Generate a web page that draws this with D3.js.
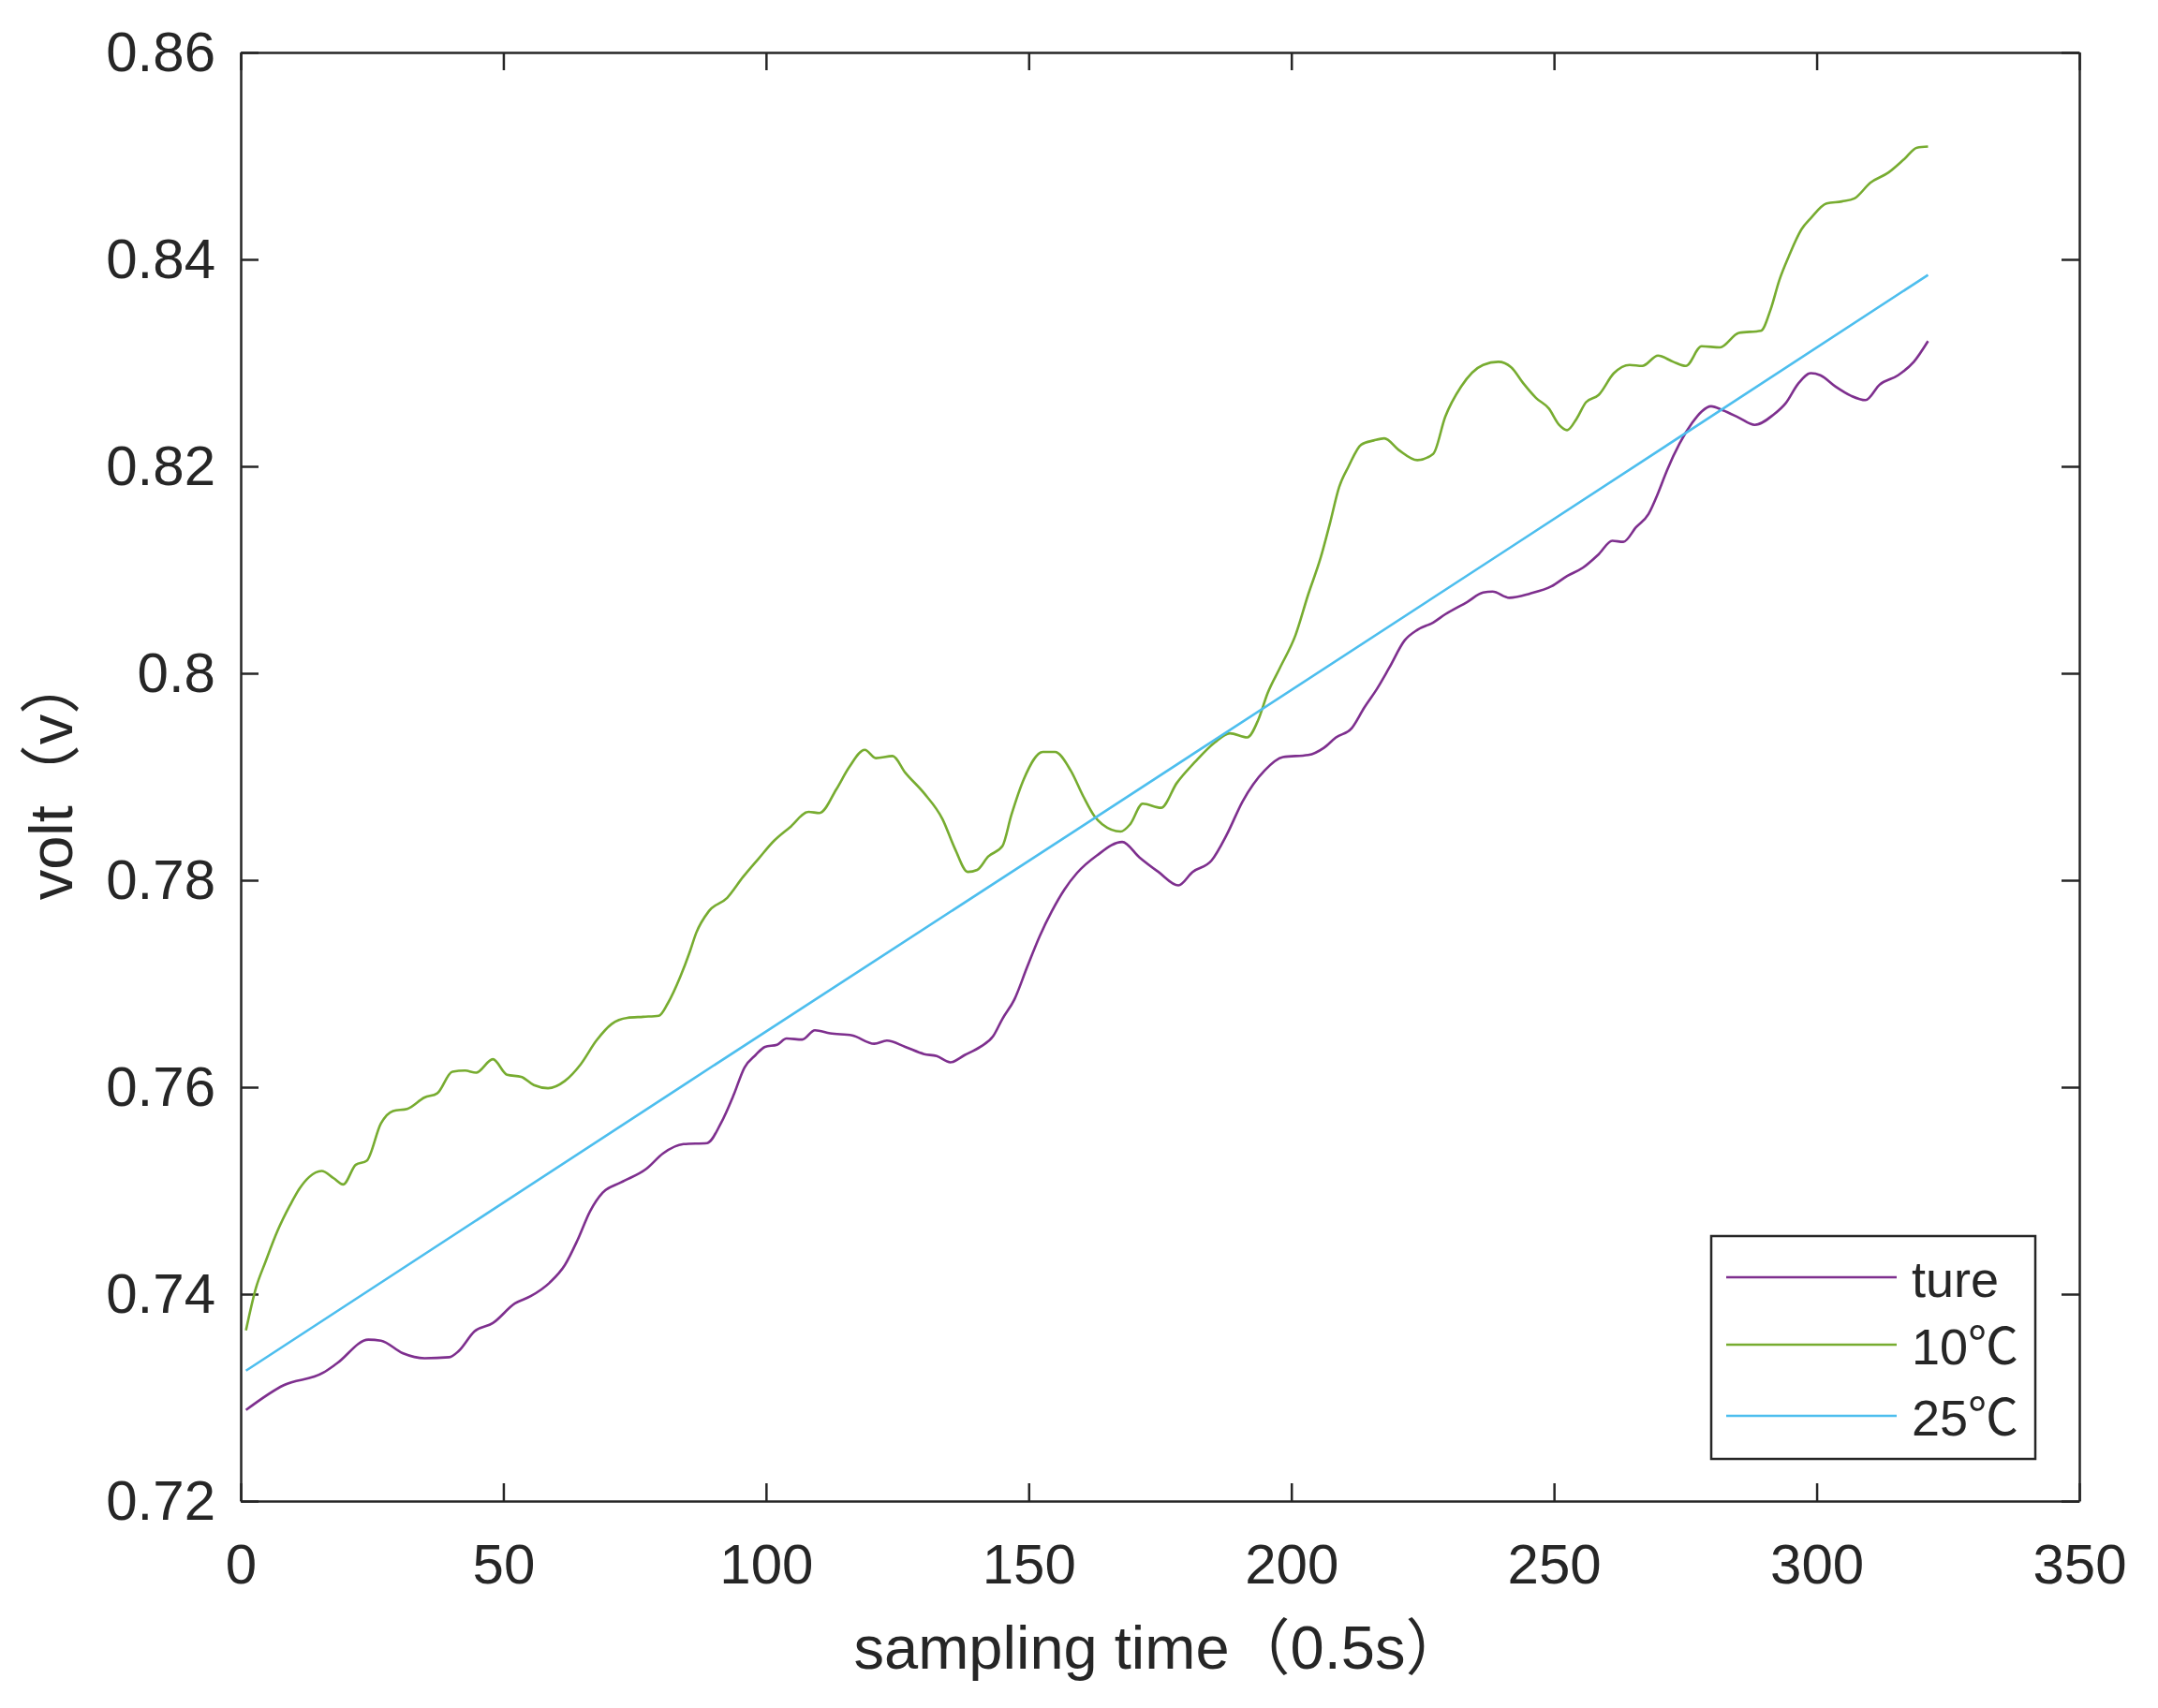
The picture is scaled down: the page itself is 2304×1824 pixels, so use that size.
<!DOCTYPE html>
<html>
<head>
<meta charset="utf-8">
<style>
  body { margin: 0; background: #fff; }
  text { font-family: "Liberation Sans", Arial, "Noto Sans CJK SC", sans-serif; fill: #262626; }
</style>
</head>
<body>
<svg width="2304" height="1824"></svg>
<script src="https://d3js.org/d3.v7.min.js"></script>
<script>
// ---- data ----
const seriesNames = ["ture", "10℃", "25℃"];
const seriesColors = ["#7E2F8E", "#77AC30", "#4DBEEE"];

const tureX = [1.0, 8.2, 15.7, 18.3, 24.3, 26.7, 30.8, 35.0, 39.7, 41.5, 44.5, 48.0, 52.2, 55.2, 58.8, 61.7, 64.1, 66.5, 68.9, 72.4, 77.2, 80.4, 84.3, 88.8, 91.4, 93.8, 95.9, 98.0, 99.8, 102.1, 103.9, 106.9, 109.3, 112.2, 116.4, 120.6, 123.0, 126.5, 130.1, 132.5, 135.1, 137.8, 140.8, 143.2, 145.0, 147.3, 149.7, 152.1, 154.4, 156.8, 159.2, 163.0, 167.8, 171.1, 174.7, 178.5, 181.2, 184.8, 187.7, 190.7, 194.9, 198.4, 203.2, 206.2, 208.5, 211.5, 213.9, 216.3, 218.6, 221.6, 224.0, 227.0, 229.3, 233.5, 236.5, 238.3, 241.5, 245.4, 249.5, 252.5, 255.5, 258.5, 261.1, 263.2, 265.6, 268.0, 269.8, 271.5, 273.9, 276.3, 278.1, 279.9, 282.2, 285.2, 288.2, 291.8, 294.1, 296.5, 298.9, 300.7, 303.6, 306.6, 309.3, 312.0, 315.5, 318.5, 321.2];
const tureY = [0.7288, 0.7312, 0.7324, 0.7333, 0.7356, 0.7355, 0.7343, 0.7338, 0.7339, 0.7345, 0.7364, 0.7372, 0.7391, 0.7398, 0.7411, 0.7428, 0.7452, 0.7480, 0.7498, 0.7508, 0.7521, 0.7536, 0.7545, 0.7546, 0.7565, 0.7592, 0.7619, 0.7631, 0.7639, 0.7641, 0.7647, 0.7646, 0.7655, 0.7652, 0.7650, 0.7642, 0.7645, 0.7639, 0.7632, 0.7630, 0.7624, 0.7631, 0.7639, 0.7649, 0.7666, 0.7685, 0.7716, 0.7746, 0.7770, 0.7791, 0.7807, 0.7824, 0.7837, 0.7822, 0.7808, 0.7795, 0.7808, 0.7819, 0.7844, 0.7876, 0.7906, 0.7919, 0.7921, 0.7928, 0.7938, 0.7947, 0.7967, 0.7985, 0.8005, 0.8032, 0.8042, 0.8049, 0.8057, 0.8069, 0.8078, 0.8079, 0.8073, 0.8077, 0.8084, 0.8094, 0.8102, 0.8115, 0.8128, 0.8127, 0.8141, 0.8154, 0.8174, 0.8196, 0.8222, 0.8242, 0.8253, 0.8258, 0.8254, 0.8247, 0.8240, 0.8250, 0.8261, 0.8280, 0.8290, 0.8288, 0.8277, 0.8268, 0.8264, 0.8279, 0.8288, 0.8301, 0.8321];

const t10X = [1.0, 2.9, 4.7, 7.0, 9.4, 11.2, 13.0, 15.4, 17.7, 19.5, 21.9, 24.0, 26.7, 29.0, 31.7, 35.0, 37.4, 40.3, 42.7, 44.8, 48.0, 50.7, 53.4, 55.8, 58.5, 61.7, 64.7, 67.7, 70.6, 73.6, 76.6, 79.6, 81.3, 83.7, 85.5, 86.7, 89.1, 92.6, 95.6, 98.6, 101.5, 104.5, 108.1, 110.2, 113.4, 115.8, 118.8, 120.9, 124.1, 126.5, 130.1, 133.6, 136.0, 138.4, 140.2, 142.3, 145.0, 146.7, 149.1, 152.7, 155.0, 158.0, 160.4, 162.5, 164.0, 167.5, 169.3, 171.7, 175.2, 178.2, 181.8, 185.4, 188.3, 191.6, 193.7, 195.5, 197.8, 200.8, 203.2, 205.6, 207.3, 209.1, 210.9, 213.3, 215.7, 217.7, 220.4, 224.0, 227.0, 229.3, 232.3, 236.5, 239.4, 241.8, 244.2, 246.6, 249.0, 251.0, 252.5, 254.3, 256.1, 258.5, 261.4, 264.4, 266.8, 269.8, 272.7, 275.1, 278.1, 281.6, 285.2, 289.4, 291.2, 292.9, 294.7, 297.1, 298.9, 301.9, 304.8, 307.2, 310.2, 313.7, 316.7, 319.1, 321.2];
const t10Y = [0.7365, 0.7406, 0.7431, 0.7461, 0.7486, 0.7502, 0.7513, 0.7519, 0.7512, 0.7506, 0.7525, 0.7529, 0.7565, 0.7577, 0.7579, 0.7590, 0.7594, 0.7615, 0.7616, 0.7614, 0.7627, 0.7612, 0.7610, 0.7602, 0.7599, 0.7606, 0.7622, 0.7645, 0.7661, 0.7667, 0.7668, 0.7669, 0.7681, 0.7707, 0.7731, 0.7749, 0.7770, 0.7783, 0.7803, 0.7821, 0.7838, 0.7851, 0.7866, 0.7865, 0.7888, 0.7909, 0.7926, 0.7918, 0.7920, 0.7904, 0.7884, 0.7859, 0.7830, 0.7808, 0.7810, 0.7823, 0.7833, 0.7863, 0.7898, 0.7924, 0.7924, 0.7906, 0.7881, 0.7862, 0.7854, 0.7847, 0.7854, 0.7874, 0.7870, 0.7894, 0.7915, 0.7933, 0.7942, 0.7938, 0.7955, 0.7981, 0.8005, 0.8037, 0.8076, 0.8112, 0.8144, 0.8180, 0.8200, 0.8221, 0.8225, 0.8227, 0.8216, 0.8206, 0.8212, 0.8248, 0.8277, 0.8298, 0.8301, 0.8296, 0.8280, 0.8266, 0.8256, 0.8240, 0.8235, 0.8246, 0.8262, 0.8269, 0.8290, 0.8298, 0.8297, 0.8307, 0.8301, 0.8297, 0.8316, 0.8315, 0.8329, 0.8331, 0.8351, 0.8380, 0.8403, 0.8429, 0.8440, 0.8454, 0.8456, 0.8459, 0.8474, 0.8484, 0.8497, 0.8508, 0.8509];

const t25X = [1.0, 84.3, 159.2, 239.4, 321.2];
const t25Y = [0.7326, 0.7602, 0.7849, 0.8114, 0.8385];

const xTicks = [0, 50, 100, 150, 200, 250, 300, 350];
const yTicks = [0.72, 0.74, 0.76, 0.78, 0.8, 0.82, 0.84, 0.86];
const xLabel = "sampling time（0.5s）";
const yLabel = "volt（v）";

// ---- layout ----
const svg = d3.select("svg");
const L = 257, R = 2220, T = 56, B = 1603;
const INK = "#262626";

const x = d3.scaleLinear().domain([0, 350]).range([L, R]);
const y = d3.scaleLinear().domain([0.72, 0.86]).range([B, T]);

svg.append("rect").attr("width", 2304).attr("height", 1824).attr("fill", "#fff");

function styleAxis(g) {
    g.selectAll("path").attr("stroke", INK).attr("stroke-width", 2.5);
    g.selectAll("line").attr("stroke", INK).attr("stroke-width", 2.5);
    g.selectAll("text").attr("fill", INK).attr("font-size", 60)
        .attr("font-family", "'Liberation Sans', Arial, sans-serif");
}

const TICK = 19;
// bottom and left with labels, ticks pointing inward
svg.append("g").attr("transform", `translate(0,${B})`)
    .call(d3.axisBottom(x).tickValues(xTicks).tickSizeInner(-TICK).tickSizeOuter(0).tickPadding(45).tickFormat(d3.format("d")))
    .call(styleAxis);
svg.append("g").attr("transform", `translate(${L},0)`)
    .call(d3.axisLeft(y).tickValues(yTicks).tickSizeInner(-TICK).tickSizeOuter(0).tickPadding(27).tickFormat(d => String(+d.toFixed(2))))
    .call(styleAxis);
// mirrored top and right, no labels
svg.append("g").attr("transform", `translate(0,${T})`)
    .call(d3.axisTop(x).tickValues(xTicks).tickSizeInner(-TICK).tickSizeOuter(0).tickFormat(""))
    .call(styleAxis);
svg.append("g").attr("transform", `translate(${R},0)`)
    .call(d3.axisRight(y).tickValues(yTicks).tickSizeInner(-TICK).tickSizeOuter(0).tickFormat(""))
    .call(styleAxis);

// ---- lines ----
const line = d3.line()
    .x(d => x(d[0]))
    .y(d => y(d[1]))
    .curve(d3.curveMonotoneX);

const series = [
    d3.zip(tureX, tureY),
    d3.zip(t10X, t10Y),
    d3.zip(t25X, t25Y)
];

series.forEach((pts, i) => {
    svg.append("path")
        .datum(pts)
        .attr("d", i === 2 ? d3.line().x(d => x(d[0])).y(d => y(d[1]))(pts) : line)
        .attr("fill", "none")
        .attr("stroke", seriesColors[i])
        .attr("stroke-width", 2.6)
        .attr("stroke-linejoin", "round");
});

// ---- axis labels ----
svg.append("text")
    .attr("x", (L + R) / 2)
    .attr("y", 1782)
    .attr("text-anchor", "middle")
    .attr("font-size", 65)
    .text(xLabel);

svg.append("text")
    .attr("transform", `translate(77,${(T + B) / 2}) rotate(-90)`)
    .attr("text-anchor", "middle")
    .attr("font-size", 65)
    .text(yLabel);

// ---- legend ----
const lg = svg.append("g");
lg.append("rect")
    .attr("x", 1827).attr("y", 1320)
    .attr("width", 346).attr("height", 238)
    .attr("fill", "#fff").attr("stroke", INK).attr("stroke-width", 2.5);

const legendY = [1364, 1436, 1512];
seriesNames.forEach((name, i) => {
    lg.append("line")
        .attr("x1", 1843).attr("x2", 2025)
        .attr("y1", legendY[i]).attr("y2", legendY[i])
        .attr("stroke", seriesColors[i]).attr("stroke-width", 2.6);
    lg.append("text")
        .attr("x", 2041).attr("y", legendY[i])
        .attr("dy", "0.38em")
        .attr("font-size", 54)
        .text(name);
});
</script>
</body>
</html>
